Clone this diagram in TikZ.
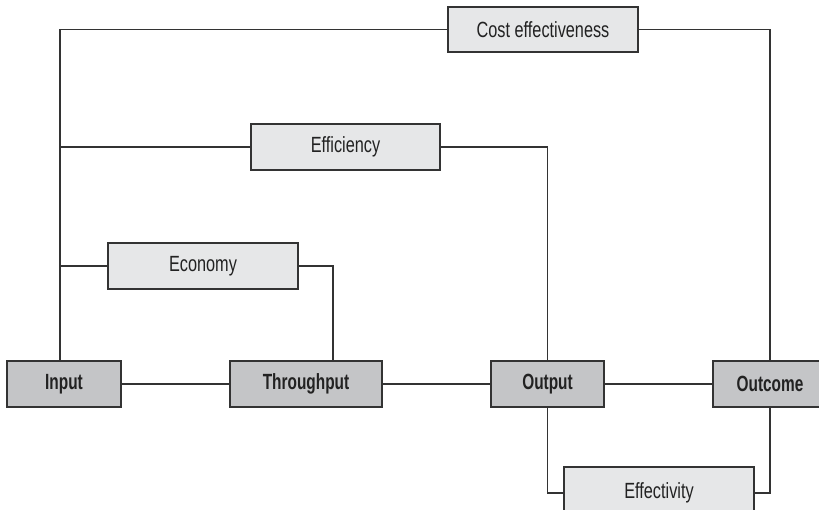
\documentclass[tikz,border=0pt]{standalone}
\usepackage{fontspec}
\newfontfamily\labfont[FakeStretch=0.74,BoldFeatures={FakeStretch=0.70}]{Liberation Sans}
\definecolor{darkbox}{HTML}{C4C5C7}
\definecolor{lightbox}{HTML}{E6E7E8}
\definecolor{linecol}{HTML}{333333}
\definecolor{txtcol}{HTML}{222222}
\begin{document}
\begin{tikzpicture}[x=1pt,y=-1pt,
  mainbox/.style={draw=linecol,line width=1.4pt,fill=darkbox,inner sep=0pt,minimum height=46pt,
    font=\labfont\fontsize{22}{26}\selectfont\bfseries,text=txtcol},
  subbox/.style={draw=linecol,line width=1.4pt,fill=lightbox,inner sep=0pt,minimum height=46pt,
    minimum width=190pt,font=\labfont\fontsize{22}{26}\selectfont,text=txtcol},
  conn/.style={draw=linecol,line width=1.2pt}]
\useasboundingbox (0,0) rectangle (819,510);
\clip (0,0) rectangle (819,510);
\node[mainbox,minimum width=114pt] (input) at (64,384) {Input};
\node[mainbox,minimum width=152pt] (through) at (306,384) {Throughput};
\node[mainbox,minimum width=113pt] (output) at (547.5,384) {Output};
\node[mainbox,minimum width=114pt] (outcome) at (770,384) {Outcome};
\node[subbox,minimum height=45pt] (cost) at (543,29.5) {Cost effectiveness};
\node[subbox,minimum width=189pt] (eff) at (345.5,147) {Efficiency};
\node[subbox] (econ) at (203,266) {Economy};
\node[subbox,minimum height=52pt] (effect) at (659,493) {Effectivity};
\coordinate (inup) at ([xshift=-4pt]input.north);
\coordinate (thup) at ([xshift=27pt]through.north);
\draw[conn] (input.east) -- (through.west);
\draw[conn] (through.east) -- (output.west);
\draw[conn] (output.east) -- (outcome.west);
\draw[conn] (inup) |- (cost.west);
\draw[conn] (inup |- eff.west) -- (eff.west);
\draw[conn] (inup |- econ.west) -- (econ.west);
\draw[conn] (econ.east) -| (thup);
\draw[conn] (eff.east) -| (output.north);
\draw[conn] (cost.east) -| (outcome.north);
\draw[conn] (output.south) |- (effect.west);
\draw[conn] (outcome.south) |- (effect.east);
\end{tikzpicture}
\end{document}
